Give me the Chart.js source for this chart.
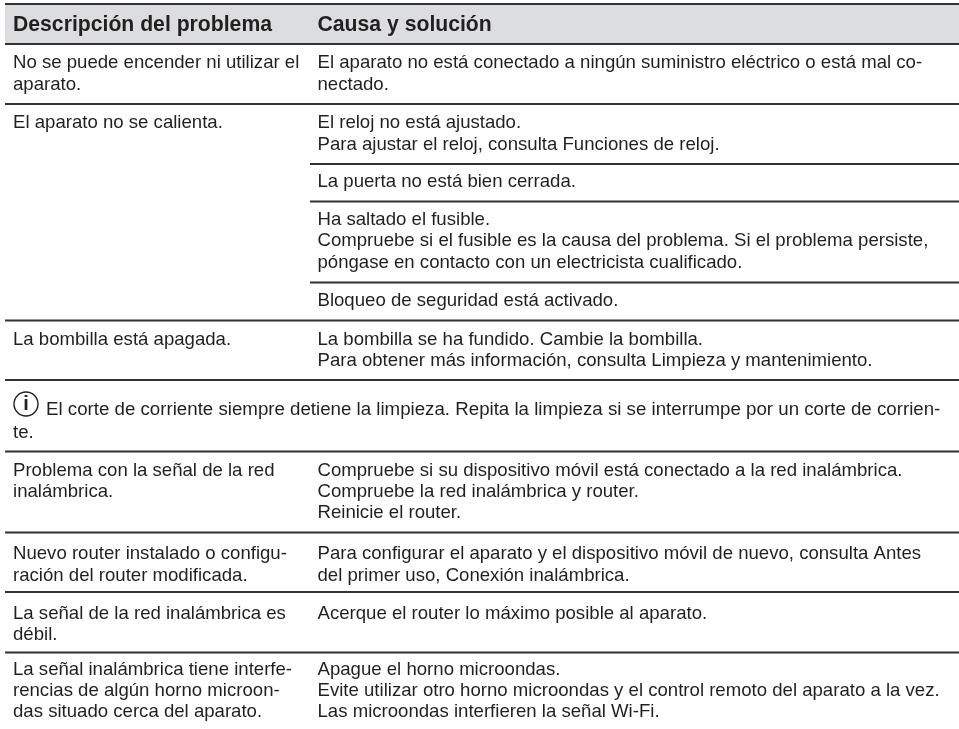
<!DOCTYPE html>
<html>
<head>
<meta charset="utf-8">
<style>
  html, body { margin: 0; padding: 0; background: #fff; }
  #wrap { width: 959px; height: 729px; }
</style>
<script src="https://cdn.jsdelivr.net/npm/chart.js@4"></script>
</head>
<body>
<div id="wrap"><canvas id="tableChart" width="959" height="729"></canvas></div>
<script>
const headers = ["Descripción del problema", "Causa y solución"];

const problems = [
  ["No se puede encender ni utilizar el", "aparato."],
  ["El aparato no se calienta."],
  ["La bombilla está apagada."],
  ["Problema con la señal de la red", "inalámbrica."],
  ["Nuevo router instalado o configu-", "ración del router modificada."],
  ["La señal de la red inalámbrica es", "débil."],
  ["La señal inalámbrica tiene interfe-", "rencias de algún horno microon-", "das situado cerca del aparato."]
];

const causes = [
  [["El aparato no está conectado a ningún suministro eléctrico o está mal co-", "nectado."]],
  [
    ["El reloj no está ajustado.", "Para ajustar el reloj, consulta Funciones de reloj."],
    ["La puerta no está bien cerrada."],
    ["Ha saltado el fusible.", "Compruebe si el fusible es la causa del problema. Si el problema persiste,", "póngase en contacto con un electricista cualificado."],
    ["Bloqueo de seguridad está activado."]
  ],
  [["La bombilla se ha fundido. Cambie la bombilla.", "Para obtener más información, consulta Limpieza y mantenimiento."]],
  [["Compruebe si su dispositivo móvil está conectado a la red inalámbrica.", "Compruebe la red inalámbrica y router.", "Reinicie el router."]],
  [["Para configurar el aparato y el dispositivo móvil de nuevo, consulta Antes", "del primer uso, Conexión inalámbrica."]],
  [["Acerque el router lo máximo posible al aparato."]],
  [["Apague el horno microondas.", "Evite utilizar otro horno microondas y el control remoto del aparato a la vez.", "Las microondas interfieren la señal Wi-Fi."]]
];

const noteLines = [
  "El corte de corriente siempre detiene la limpieza. Repita la limpieza si se interrumpe por un corte de corrien-",
  "te."
];

// layout, in scale units (1 unit = 1 px with the axes below)
const leftEdge = 5, rightEdge = 959, col1 = 13, col2 = 317.5, colRule = 310;
const tableTop = 4, headerBottom = 44;
const rowTops = [44, 104, 320.5, 451.5, 532.5, 592, 652.5];
const rowBaselines = [24.3, 24.3, 24.3, 24.3, 26.7, 26.6, 22];
const subTops = [104, 164, 201.5, 282.5];
const subBaselines = [24.3, 23.4, 23.4, 23.4];
const noteTop = 380, noteBaseline = 35, noteStep = 23;
const lineStep = 21.3;

const textColor = "#231f20";
const ruleColor = "#333132";

const rules = [
  { y: tableTop, x0: leftEdge },
  { y: headerBottom, x0: leftEdge },
  { y: 104, x0: leftEdge },
  { y: 164, x0: colRule },
  { y: 201.5, x0: colRule },
  { y: 282.5, x0: colRule },
  { y: 320.5, x0: leftEdge },
  { y: noteTop, x0: leftEdge },
  { y: 451.5, x0: leftEdge },
  { y: 532.5, x0: leftEdge },
  { y: 592, x0: leftEdge },
  { y: 652.5, x0: leftEdge }
];

const texts = [];
function addLines(lines, x, first) {
  lines.forEach(function (t, k) {
    texts.push({ t: t, x: x, y: first + k * lineStep });
  });
}
problems.forEach(function (lines, i) {
  addLines(lines, col1, rowTops[i] + rowBaselines[i]);
  causes[i].forEach(function (cell, c) {
    if (causes[i].length > 1) {
      addLines(cell, col2, subTops[c] + subBaselines[c]);
    } else {
      addLines(cell, col2, rowTops[i] + rowBaselines[i]);
    }
  });
});

const tablePlugin = {
  id: "tableText",
  afterDatasetsDraw: function (chart) {
    const c = chart.ctx, sx = chart.scales.x, sy = chart.scales.y;
    c.save();
    c.fillStyle = textColor;
    c.textBaseline = "alphabetic";
    c.font = "bold 21.2px 'Liberation Sans'";
    headers.forEach(function (h, i) {
      c.fillText(h, sx.getPixelForValue(i === 0 ? col1 : col2), sy.getPixelForValue(30.7));
    });
    c.font = "18.6px 'Liberation Sans'";
    texts.forEach(function (d) {
      c.fillText(d.t, sx.getPixelForValue(d.x), sy.getPixelForValue(d.y));
    });
    c.font = "18.7px 'Liberation Sans'";
    c.fillText(noteLines[0], sx.getPixelForValue(46), sy.getPixelForValue(noteTop + noteBaseline));
    c.fillText(noteLines[1], sx.getPixelForValue(col1), sy.getPixelForValue(noteTop + noteBaseline + noteStep));

    // info icon
    const cx = sx.getPixelForValue(26), cy = sy.getPixelForValue(404);
    c.strokeStyle = textColor;
    c.lineWidth = 1.4;
    c.beginPath();
    c.arc(cx, cy, 12, 0, Math.PI * 2);
    c.stroke();
    c.font = "bold 20px 'Liberation Sans'";
    c.textAlign = "center";
    c.textBaseline = "middle";
    c.fillText("i", cx, cy);
    c.restore();
  }
};

const datasets = rules.map(function (r) {
  return {
    data: [{ x: r.x0, y: r.y }, { x: rightEdge, y: r.y }],
    borderColor: ruleColor,
    borderWidth: 1.8,
    pointRadius: 0,
    showLine: true,
    fill: false
  };
});
// grey band behind the header
datasets.push({
  data: [{ x: leftEdge, y: headerBottom }, { x: rightEdge, y: headerBottom }],
  borderWidth: 0,
  pointRadius: 0,
  showLine: true,
  backgroundColor: "#dcddde",
  fill: { value: tableTop },
  order: 10
});

new Chart(document.getElementById("tableChart"), {
  type: "scatter",
  data: { datasets: datasets },
  options: {
    responsive: false,
    animation: false,
    layout: { padding: 0 },
    scales: {
      x: { type: "linear", min: 0, max: 959, display: false },
      y: { type: "linear", min: 0, max: 729, reverse: true, display: false }
    },
    plugins: { legend: { display: false }, tooltip: { enabled: false } }
  },
  plugins: [tablePlugin]
});
</script>
</body>
</html>
